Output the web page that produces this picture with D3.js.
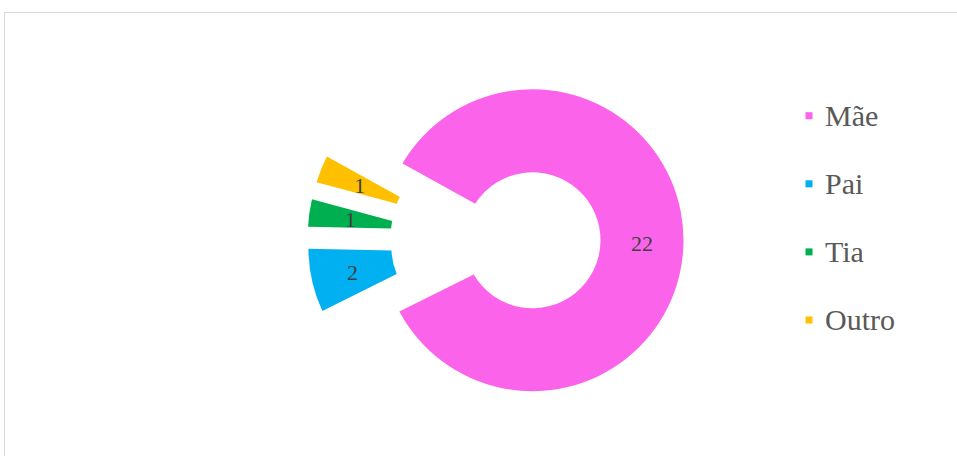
<!DOCTYPE html>
<html>
<head>
<meta charset="utf-8">
<script src="https://cdn.jsdelivr.net/npm/d3@7"></script>
<style>
  body { margin: 0; background: #fff; }
</style>
</head>
<body>
<script>

// chart data
var categories = ["Mãe", "Pai", "Tia", "Outro"];
var counts = [22, 2, 1, 1];
var colors = ["#fb64ea", "#00b0f0", "#00b050", "#ffc000"];

var svgWidth = 957;
var svgHeight = 456;

// doughnut geometry
var center = { x: 495.5, y: 239.5 };
var outerRadius = 151;
var innerRadius = 68;
var explode = 37;
var gapCenter = 271.2; // degrees, where the small slices sit

var svg = d3.select("body")
  .append("svg")
  .attr("width", svgWidth)
  .attr("height", svgHeight);

// chart area border
svg.append("rect")
  .attr("x", 4.5)
  .attr("y", 12.5)
  .attr("width", 1000)
  .attr("height", 500)
  .attr("fill", "none")
  .attr("stroke", "#d9d9d9")
  .attr("stroke-width", 1);

var total = d3.sum(counts);
var smallShare = (total - counts[0]) / total * 360;
var startDeg = gapCenter + smallShare / 2 - 360;
var startRad = startDeg * Math.PI / 180;

var pie = d3.pie()
  .sort(null)
  .startAngle(startRad)
  .endAngle(startRad + 2 * Math.PI);

var arc = d3.arc()
  .innerRadius(innerRadius)
  .outerRadius(outerRadius)
  .padRadius(outerRadius)
  .padAngle(2 * Math.asin(4.4 / outerRadius));

var slices = pie(counts);

var chartGroup = svg.append("g")
  .attr("transform", `translate(${center.x}, ${center.y})`);

// each slice pushed out along its bisector
function offset(d) {
  var mid = (d.startAngle + d.endAngle) / 2;
  return [explode * Math.sin(mid), -explode * Math.cos(mid)];
}

var sliceGroups = chartGroup.selectAll(".slice")
  .data(slices)
  .enter()
  .append("g")
  .attr("class", "slice")
  .attr("transform", d => `translate(${offset(d)[0]}, ${offset(d)[1]})`);

sliceGroups.append("path")
  .attr("d", arc)
  .attr("fill", (d, i) => colors[i]);

// data labels
sliceGroups.append("text")
  .text(d => d.data)
  .attr("x", d => arc.centroid(d)[0])
  .attr("y", d => arc.centroid(d)[1] + 1)
  .attr("text-anchor", "middle")
  .attr("dominant-baseline", "central")
  .attr("font-family", "'Liberation Serif', 'Times New Roman', serif")
  .attr("font-size", "22px")
  .attr("fill", "#404040");

// legend
var legendY = d3.scalePoint()
  .domain(categories)
  .range([115.7, 320]);

var legend = svg.append("g")
  .selectAll("g")
  .data(categories)
  .enter()
  .append("g")
  .attr("transform", d => `translate(809, ${legendY(d)})`);

legend.append("rect")
  .attr("x", -3.5)
  .attr("y", -3.5)
  .attr("width", 7)
  .attr("height", 7)
  .attr("fill", (d, i) => colors[i]);

legend.append("text")
  .text(d => d)
  .attr("x", 16)
  .attr("y", 10)
  .attr("font-family", "'Liberation Serif', 'Times New Roman', serif")
  .attr("font-size", "30px")
  .attr("fill", "#595959");

</script>
</body>
</html>
